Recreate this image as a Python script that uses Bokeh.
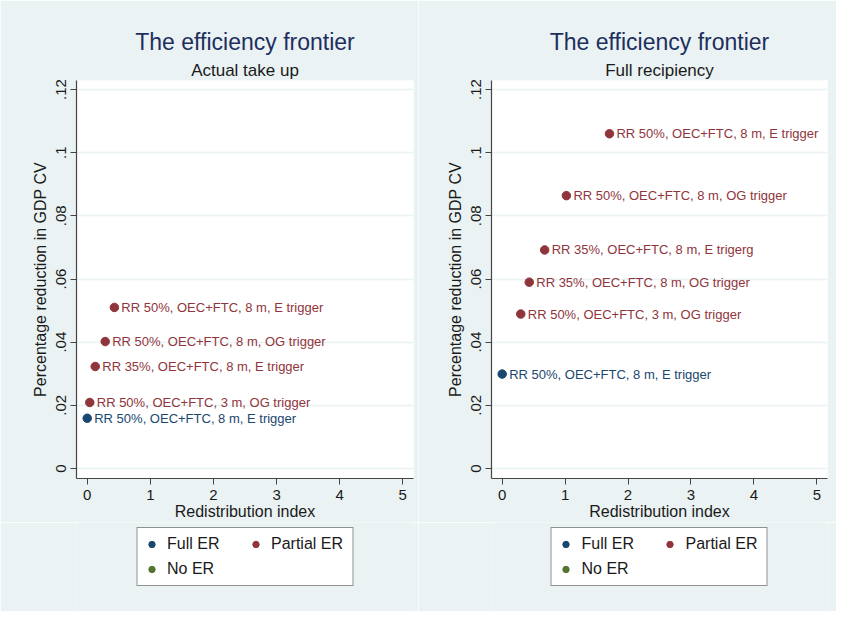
from bokeh.plotting import figure
from bokeh.layouts import row, column
from bokeh.models import ColumnDataSource, Legend, LegendItem, Title, FixedTicker, Range1d
from bokeh.embed import file_html
from bokeh.resources import INLINE

# ---- data ----
titles = ["The efficiency frontier", "The efficiency frontier"]
subtitles = ["Actual take up", "Full recipiency"]

# Panel 1: Actual take up
x_actual = [0.00, 0.04, 0.127, 0.285, 0.43]
y_actual = [0.0159, 0.0209, 0.0323, 0.0402, 0.0510]
cat_actual = ["Full ER", "Partial ER", "Partial ER", "Partial ER", "Partial ER"]
lab_actual = [
    "RR 50%, OEC+FTC, 8 m, E trigger",
    "RR 50%, OEC+FTC, 3 m, OG trigger",
    "RR 35%, OEC+FTC, 8 m, E trigger",
    "RR 50%, OEC+FTC, 8 m, OG trigger",
    "RR 50%, OEC+FTC, 8 m, E trigger",
]

# Panel 2: Full recipiency
x_full = [0.00, 0.295, 0.43, 0.675, 1.02, 1.705]
y_full = [0.0299, 0.0489, 0.0590, 0.0692, 0.0864, 0.1060]
cat_full = ["Full ER", "Partial ER", "Partial ER", "Partial ER", "Partial ER", "Partial ER"]
lab_full = [
    "RR 50%, OEC+FTC, 8 m, E trigger",
    "RR 50%, OEC+FTC, 3 m, OG trigger",
    "RR 35%, OEC+FTC, 8 m, OG trigger",
    "RR 35%, OEC+FTC, 8 m, E trigerg",
    "RR 50%, OEC+FTC, 8 m, OG trigger",
    "RR 50%, OEC+FTC, 8 m, E trigger",
]

categories = ["Full ER", "Partial ER", "No ER"]
cat_colors = {"Full ER": "#1A476F", "Partial ER": "#90353B", "No ER": "#55752F"}

x_ticks = [0, 1, 2, 3, 4, 5]
y_ticks = [0, 0.02, 0.04, 0.06, 0.08, 0.10, 0.12]
y_tick_labels = ["0", ".02", ".04", ".06", ".08", ".1", ".12"]

x_label = "Redistribution index"
y_label = "Percentage reduction in GDP CV"

BG = "#EAF2F3"
FONT = "Liberation Sans"
NAN = float("nan")
PANEL_W = 418


def make_panel(title, subtitle, xs, ys, cats, labels, border_left, border_right):
    p = figure(width=PANEL_W, height=522, output_backend="svg", toolbar_location=None,
               x_range=Range1d(-0.17, 5.17), y_range=Range1d(-0.00317, 0.12286),
               min_border_left=border_left, min_border_right=border_right,
               min_border_top=80, min_border_bottom=5)
    p.border_fill_color = BG
    p.background_fill_color = "white"
    p.outline_line_color = None

    p.title.text = title
    p.title.align = "center"
    p.title.text_font = FONT
    p.title.text_font_size = "23px"
    p.title.text_font_style = "normal"
    p.title.text_color = "#1E2F5E"
    p.title.standoff = 6
    sub = Title(text=subtitle, align="center", text_font=FONT, text_font_size="17px",
                text_font_style="normal", text_color="#1a1a1a", standoff=2)
    p.add_layout(sub, "above")

    p.xgrid.visible = False
    p.ygrid.ticker = FixedTicker(ticks=y_ticks)
    p.ygrid.grid_line_color = BG
    p.ygrid.grid_line_width = 1.5

    p.xaxis.ticker = FixedTicker(ticks=x_ticks)
    p.yaxis.ticker = FixedTicker(ticks=y_ticks)
    p.yaxis.major_label_overrides = {t: l for t, l in zip(y_ticks, y_tick_labels)}
    p.yaxis.major_label_orientation = "vertical"
    for ax in (p.xaxis[0], p.yaxis[0]):
        ax.axis_line_color = "#444444"
        ax.axis_line_width = 1.2
        ax.major_tick_line_color = "#444444"
        ax.major_tick_out = 6
        ax.major_tick_in = 0
        ax.minor_tick_line_color = None
        ax.major_label_text_font = FONT
        ax.major_label_text_font_size = "15px"
        ax.major_label_text_color = "#1a1a1a"
        ax.axis_label_text_font = FONT
        ax.axis_label_text_font_size = "16px"
        ax.axis_label_text_font_style = "normal"
        ax.axis_label_text_color = "#1a1a1a"
    p.xaxis.axis_label = x_label
    p.yaxis.axis_label = y_label
    p.xaxis.major_label_standoff = 5
    p.xaxis.axis_label_standoff = 0
    p.yaxis.major_label_standoff = 4
    p.yaxis.axis_label_standoff = 5

    for c in categories:
        idx = [i for i, k in enumerate(cats) if k == c]
        if not idx:
            continue
        src = ColumnDataSource(dict(x=[xs[i] for i in idx], y=[ys[i] for i in idx],
                                    lab=[labels[i] for i in idx]))
        p.scatter("x", "y", source=src, size=8.5, marker="circle",
                  fill_color=cat_colors[c], line_color=cat_colors[c])
        p.text("x", "y", text="lab", source=src, x_offset=7, text_baseline="middle",
               text_align="left", text_font={"value": FONT}, text_font_size="13px",
               text_color=cat_colors[c])

    # legend in its own strip below the panel
    q = figure(width=PANEL_W, height=89, output_backend="svg", toolbar_location=None,
               x_range=Range1d(0, 1), y_range=Range1d(0, 1),
               x_axis_type=None, y_axis_type=None,
               min_border_left=border_left, min_border_right=border_right,
               min_border_top=0, min_border_bottom=0)
    q.border_fill_color = BG
    q.background_fill_color = BG
    q.outline_line_color = None
    q.grid.visible = False
    items = []
    for c in categories:
        r = q.scatter(x=[NAN], y=[NAN], size=8.5, marker="circle",
                      fill_color=cat_colors[c], line_color=cat_colors[c])
        items.append(LegendItem(label=c, renderers=[r]))
    legend = Legend(items=items, orientation="horizontal", ncols=2, location="top_center",
                    glyph_width=16, glyph_height=20, label_standoff=8, label_width=75,
                    label_height=20, spacing=5, padding=6, margin=5,
                    label_text_font=FONT, label_text_font_size="16px",
                    label_text_color="#1a1a1a",
                    border_line_color="#222222", border_line_width=1,
                    background_fill_color="white", background_fill_alpha=1.0)
    q.add_layout(legend)
    return column(p, q, spacing=0)


c1 = make_panel(titles[0], subtitles[0], x_actual, y_actual, cat_actual, lab_actual, 76, 5)
c2 = make_panel(titles[1], subtitles[1], x_full, y_full, cat_full, lab_full, 73, 9)

layout = row(c1, c2, spacing=0)
open("out.html", "w").write(file_html(layout, INLINE))
